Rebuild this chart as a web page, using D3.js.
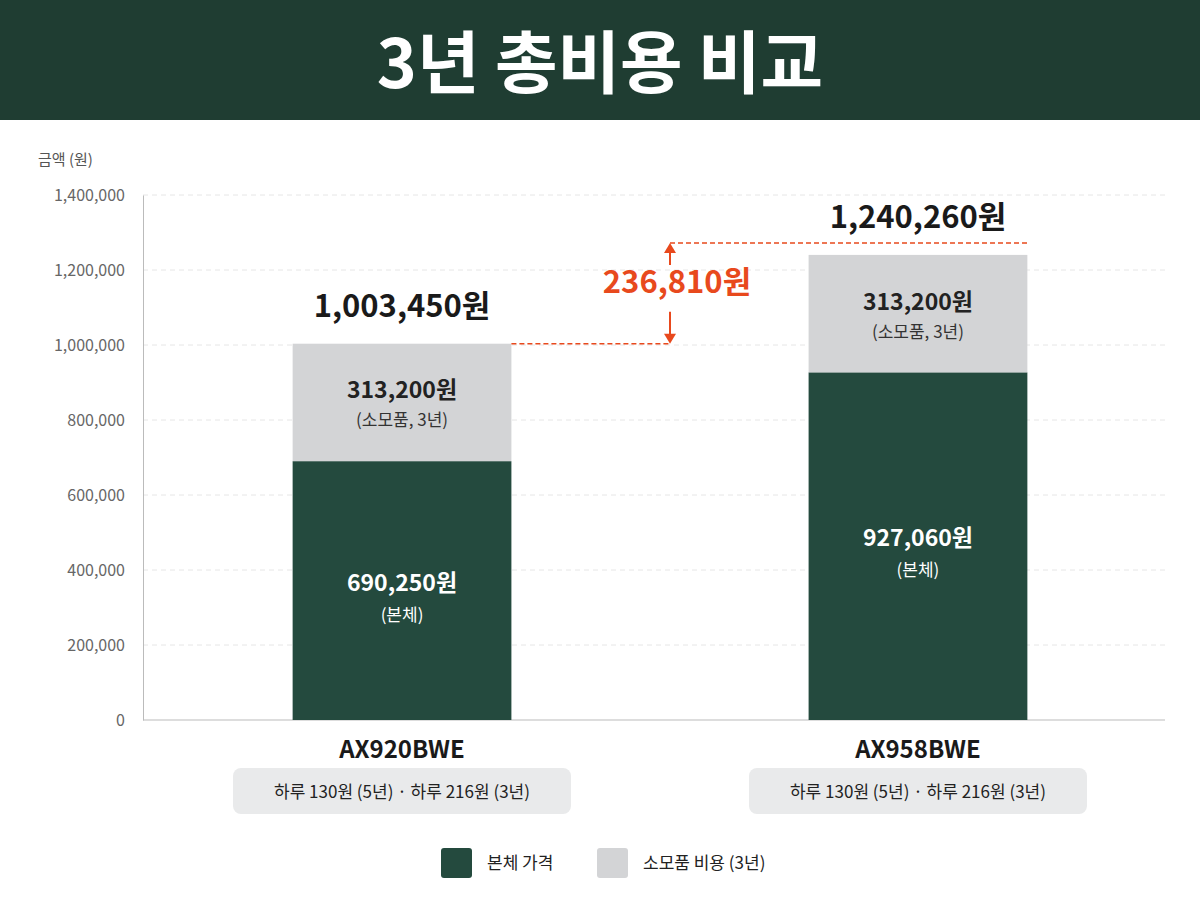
<!DOCTYPE html>
<html>
<head>
<meta charset="utf-8">
<script src="https://d3js.org/d3.v7.min.js"></script>
<style>
  body { margin: 0; background: #fff; }
  text { font-family: "Noto Sans CJK KR", "Noto Sans", sans-serif; }
</style>
</head>
<body>
<script>
// chart data
var models = ["AX920BWE", "AX958BWE"];
var bodyPrice = [690250, 927060];
var consumables = [313200, 313200];
var dailyNotes = ["하루 130원 (5년) · 하루 216원 (3년)", "하루 130원 (5년) · 하루 216원 (3년)"];
var yTicks = [0, 200000, 400000, 600000, 800000, 1000000, 1200000, 1400000];

var W = 1200, H = 900;
var dark = "#244a3e", grey = "#d3d4d6", orange = "#e8491d";
var fmt = d3.format(",");

var svg = d3.select("body").append("svg").attr("width", W).attr("height", H);

// header band
svg.append("rect").attr("width", W).attr("height", 120).attr("fill", "#1f3d32");
svg.append("text").attr("x", W / 2).attr("y", 88).attr("text-anchor", "middle")
  .attr("fill", "#fff").attr("font-size", 68).attr("font-weight", 700).text("3년 총비용 비교");

var y = d3.scaleLinear().domain([0, 1400000]).range([720, 195]);
var x = d3.scaleBand().domain(models).range([143, 1177]).paddingInner(0.576).paddingOuter(0.29);

// grid
svg.append("g").selectAll("line").data(yTicks.slice(1)).join("line")
  .attr("x1", 143).attr("x2", 1165)
  .attr("y1", function(d) { return y(d); }).attr("y2", function(d) { return y(d); })
  .attr("stroke", "#e6e6e6").attr("stroke-dasharray", "5,4");

// y axis
var ya = svg.append("g").attr("transform", "translate(143,0)")
  .call(d3.axisLeft(y).tickValues(yTicks).tickFormat(fmt).tickSize(0).tickPadding(18));
ya.select(".domain").attr("stroke", "#bbb");
ya.selectAll("text").attr("font-size", 16).attr("fill", "#666")
  .style("font-family", "'Noto Sans CJK KR', sans-serif");
svg.append("line").attr("x1", 143).attr("x2", 1165).attr("y1", 720).attr("y2", 720).attr("stroke", "#bbb");
svg.append("text").attr("x", 38).attr("y", 165).attr("font-size", 15).attr("fill", "#555").text("금액 (원)");

// bars
models.forEach(function(m, i) {
  var x0 = x(m), bw = x.bandwidth(), cx = x0 + bw / 2;
  var total = bodyPrice[i] + consumables[i];
  svg.append("rect").attr("x", x0).attr("width", bw)
    .attr("y", y(bodyPrice[i])).attr("height", y(0) - y(bodyPrice[i])).attr("fill", dark);
  svg.append("rect").attr("x", x0).attr("width", bw)
    .attr("y", y(total)).attr("height", y(bodyPrice[i]) - y(total)).attr("fill", grey);

  var bm = (y(0) + y(bodyPrice[i])) / 2;
  svg.append("text").attr("x", cx).attr("y", bm).attr("text-anchor", "middle")
    .attr("font-size", 23).attr("font-weight", 700).attr("fill", "#fff").text(fmt(bodyPrice[i]) + "원");
  svg.append("text").attr("x", cx).attr("y", bm + 30).attr("text-anchor", "middle")
    .attr("font-size", 17).attr("fill", "#fff").text("(본체)");

  var cm = (y(bodyPrice[i]) + y(total)) / 2;
  svg.append("text").attr("x", cx).attr("y", cm - 4).attr("text-anchor", "middle")
    .attr("font-size", 23).attr("font-weight", 700).attr("fill", "#222").text(fmt(consumables[i]) + "원");
  svg.append("text").attr("x", cx).attr("y", cm + 24).attr("text-anchor", "middle")
    .attr("font-size", 17).attr("fill", "#333").text("(소모품, 3년)");

  svg.append("text").attr("x", cx).attr("y", y(total) - 27).attr("text-anchor", "middle")
    .attr("font-size", 31).attr("font-weight", 700).attr("fill", "#1a1a1a").text(fmt(total) + "원");

  svg.append("text").attr("x", cx).attr("y", 758).attr("text-anchor", "middle")
    .attr("font-size", 24).attr("font-weight", 700).attr("fill", "#1a1a1a").text(m);
  svg.append("rect").attr("x", cx - 169).attr("y", 768).attr("width", 338).attr("height", 46)
    .attr("rx", 8).attr("fill", "#e9eaeb");
  svg.append("text").attr("x", cx).attr("y", 798).attr("text-anchor", "middle")
    .attr("font-size", 17).attr("fill", "#222").text(dailyNotes[i]);
});

// difference annotation
var t1 = bodyPrice[0] + consumables[0], t2 = bodyPrice[1] + consumables[1];
var ax = 670, topY = y(t2) - 12, botY = y(t1);
svg.append("line").attr("x1", x(models[0]) + x.bandwidth()).attr("x2", ax)
  .attr("y1", botY).attr("y2", botY).attr("stroke", orange).attr("stroke-width", 1.5).attr("stroke-dasharray", "5,3");
svg.append("line").attr("x1", ax).attr("x2", x(models[1]) + x.bandwidth())
  .attr("y1", topY).attr("y2", topY).attr("stroke", orange).attr("stroke-width", 1.5).attr("stroke-dasharray", "5,3");
svg.append("line").attr("x1", ax).attr("x2", ax).attr("y1", topY + 8).attr("y2", topY + 22)
  .attr("stroke", orange).attr("stroke-width", 2);
svg.append("line").attr("x1", ax).attr("x2", ax).attr("y1", botY - 32).attr("y2", botY - 8)
  .attr("stroke", orange).attr("stroke-width", 2);
svg.append("path").attr("d", "M" + (ax - 6) + "," + (topY + 10) + "L" + ax + "," + topY + "L" + (ax + 6) + "," + (topY + 10) + "Z").attr("fill", orange);
svg.append("path").attr("d", "M" + (ax - 6) + "," + (botY - 10) + "L" + ax + "," + botY + "L" + (ax + 6) + "," + (botY - 10) + "Z").attr("fill", orange);
svg.append("text").attr("x", 677).attr("y", 293).attr("text-anchor", "middle")
  .attr("font-size", 31).attr("font-weight", 700).attr("fill", orange).text(fmt(t2 - t1) + "원");

// legend
var leg = [["본체 가격", dark, 441], ["소모품 비용 (3년)", grey, 597]];
leg.forEach(function(l) {
  svg.append("rect").attr("x", l[2]).attr("y", 848).attr("width", 31).attr("height", 30).attr("rx", 3).attr("fill", l[1]);
  svg.append("text").attr("x", l[2] + 46).attr("y", 869).attr("font-size", 17).attr("fill", "#222").text(l[0]);
});
</script>
</body>
</html>
